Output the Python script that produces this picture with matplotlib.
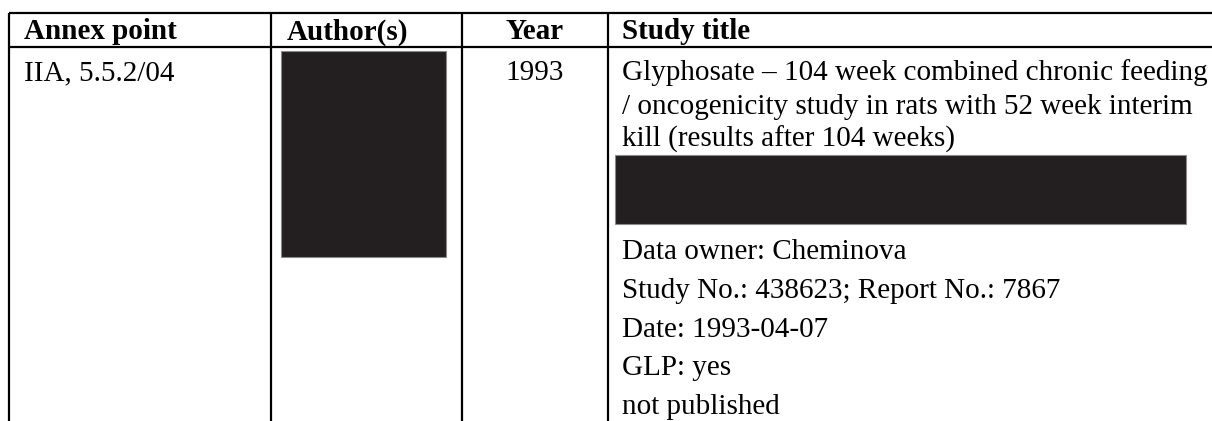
import matplotlib
matplotlib.use("Agg")
import matplotlib.pyplot as plt
from matplotlib.patches import Rectangle

# table content
headers = ["Annex point", "Author(s)", "Year", "Study title"]
annex_point = "IIA, 5.5.2/04"
year = "1993"
title_lines = [
    "Glyphosate \u2013 104 week combined chronic feeding",
    "/ oncogenicity study in rats with 52 week interim",
    "kill (results after 104 weeks)",
]
detail_lines = [
    "Data owner: Cheminova",
    "Study No.: 438623; Report No.: 7867",
    "Date: 1993-04-07",
    "GLP: yes",
    "not published",
]

# layout in pixels
W, H = 1212, 421
col_x = [9, 270.7, 461.7, 607.7]
top_y, head_y = 12.7, 46.7
fs = 21
font = "Liberation Serif"

fig = plt.figure(figsize=(W / 100, H / 100), dpi=100)
ax = fig.add_axes([0, 0, 1, 1])
ax.set_xlim(0, W)
ax.set_ylim(H, 0)
ax.axis("off")

lw = 1.6
ax.plot([col_x[0], W], [top_y, top_y], color="black", lw=lw, solid_capstyle="butt")
ax.plot([col_x[0], W], [head_y, head_y], color="black", lw=lw, solid_capstyle="butt")
for x in col_x:
    ax.plot([x, x], [top_y, H], color="black", lw=lw, solid_capstyle="butt")

# header
hx = [24, 286.7, None, 622]
for i, h in enumerate(headers):
    if i == 2:
        ax.text((col_x[2] + col_x[3]) / 2, 39.3, h, fontsize=fs, fontfamily=font,
                fontweight="bold", ha="center", va="baseline")
    else:
        ax.text(hx[i], 39.3, h, fontsize=fs, fontfamily=font,
                fontweight="bold", ha="left", va="baseline")

# first row
ax.text(24, 80, annex_point, fontsize=fs, fontfamily=font, va="baseline")
ax.text((col_x[2] + col_x[3]) / 2, 80, year, fontsize=fs, fontfamily=font,
        ha="center", va="baseline")
for i, line in enumerate(title_lines):
    ax.text(622, 80 + 33.5 * i, line, fontsize=fs, fontfamily=font, va="baseline")
for i, line in enumerate(detail_lines):
    ax.text(622, 259 + 38.8 * i, line, fontsize=fs, fontfamily=font, va="baseline")

# redactions
red = "#231f20"
ax.add_patch(Rectangle((280.7, 51), 446 - 280.7, 256.7 - 51,
                       facecolor=red, edgecolor="#8a8a8a", lw=0.8))
ax.add_patch(Rectangle((615, 155), 1185.7 - 615, 224.3 - 155,
                       facecolor=red, edgecolor="#8a8a8a", lw=0.8))

fig.savefig("out.png", dpi=100, facecolor="white")
